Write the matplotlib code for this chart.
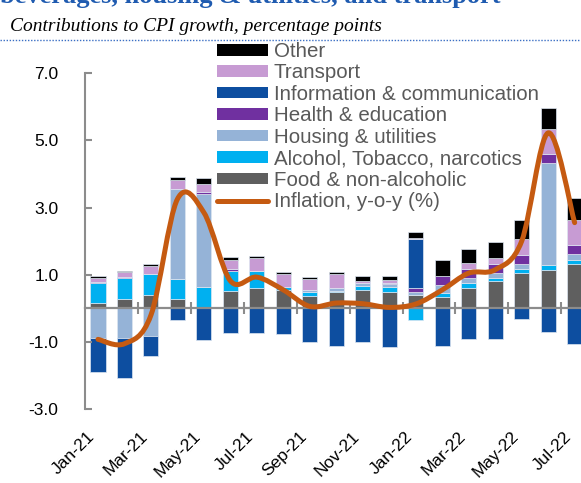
"""
Contributions to CPI growth by component, Jan-21 to Jul-22.
Stacked bars (positive and negative stacked separately) plus smoothed y-o-y inflation line.
"""
import numpy as np
import matplotlib.pyplot as plt
from matplotlib.lines import Line2D
from matplotlib.patches import Patch, PathPatch
from matplotlib.path import Path

plt.rcParams["font.family"] = ["Liberation Sans", "DejaVu Sans"]

MONTHS = [
    "Jan-21", "Feb-21", "Mar-21", "Apr-21", "May-21", "Jun-21", "Jul-21",
    "Aug-21", "Sep-21", "Oct-21", "Nov-21", "Dec-21", "Jan-22", "Feb-22",
    "Mar-22", "Apr-22", "May-22", "Jun-22", "Jul-22",
]

FOOD = [0.17, 0.29, 0.39, 0.28, 0.00, 0.52, 0.60, 0.54, 0.36, 0.50,
        0.55, 0.48, 0.40, 0.35, 0.62, 0.81, 1.04, 1.14, 1.31]
ALCOHOL = [0.59, 0.62, 0.62, 0.58, 0.63, 0.59, 0.52, 0.09, 0.12, 0.03,
           0.13, 0.15, -0.35, 0.12, 0.13, 0.10, 0.12, 0.14, 0.13]
HOUSING = [-0.87, -0.89, -0.82, 2.68, 2.78, 0.00, 0.00, 0.00, 0.08, 0.07,
           0.07, 0.09, 0.10, 0.23, 0.15, 0.15, 0.15, 3.04, 0.19]
HEALTH = [0.02, 0.02, 0.02, 0.00, 0.04, 0.05, 0.00, 0.00, 0.00, 0.00,
          0.00, 0.04, 0.10, 0.25, 0.27, 0.25, 0.27, 0.27, 0.26]
INFO = [-1.01, -1.19, -0.59, -0.35, -0.95, -0.73, -0.74, -0.75, -1.01, -1.11,
        -1.01, -1.14, 1.47, -1.11, -0.91, -0.90, -0.31, -0.70, -1.07]
TRANSPORT = [0.12, 0.15, 0.23, 0.28, 0.24, 0.28, 0.37, 0.38, 0.30, 0.42,
             0.07, 0.09, 0.03, 0.00, 0.18, 0.20, 0.48, 0.74, 0.73]
OTHER = [0.05, 0.02, 0.07, 0.08, 0.20, 0.09, 0.08, 0.08, 0.08, 0.07,
         0.14, 0.11, 0.17, 0.50, 0.42, 0.45, 0.57, 0.62, 0.67]
INFLATION = [-0.92, -1.05, -0.20, 3.25, 2.85, 0.82, 0.93, 0.55, 0.06, 0.16,
             0.14, 0.03, 0.13, 0.55, 1.05, 1.15, 2.00, 5.22, 2.55]

# stacking order, bottom to top
SERIES = [
    ("Food & non-alcoholic", FOOD, "#5f5f5f"),
    ("Alcohol, Tobacco, narcotics", ALCOHOL, "#00b0f0"),
    ("Housing & utilities", HOUSING, "#95b3d7"),
    ("Health & education", HEALTH, "#7030a0"),
    ("Information & communication", INFO, "#0d4ea0"),
    ("Transport", TRANSPORT, "#c79bd3"),
    ("Other", OTHER, "#000000"),
]
LINE_LABEL = "Inflation, y-o-y (%)"
LINE_COLOR = "#c55a11"
AXIS_GRAY = "#8c8c8c"
BAR_WIDTH = 0.57

W, H = 581, 483


def smooth_path(xs, ys) -> Path:
    """Catmull-Rom style bezier through the points (like a smoothed spreadsheet line)."""
    pts = np.column_stack([xs, ys]).astype(float)
    ext = np.vstack([pts[0], pts, pts[-1]])
    verts = [pts[0]]
    codes = [Path.MOVETO]
    for i in range(len(pts) - 1):
        p0, p1, p2, p3 = ext[i], ext[i + 1], ext[i + 2], ext[i + 3]
        verts += [p1 + (p2 - p0) / 6, p2 - (p3 - p1) / 6, p2]
        codes += [Path.CURVE4] * 3
    return Path(verts, codes)


fig = plt.figure(figsize=(W / 100, H / 100), dpi=100)
ax = fig.add_axes([85 / W, (H - 409.3) / H, 1 - 85 / W, 336.3 / H])

x = np.arange(len(MONTHS))
pos_bottom = np.zeros(len(x))
neg_bottom = np.zeros(len(x))
for name, vals, color in SERIES:
    v = np.array(vals)
    bottom = np.where(v >= 0, pos_bottom, neg_bottom)
    ax.bar(x, v, BAR_WIDTH, bottom=bottom, color=color,
           edgecolor="#dde6f1", linewidth=0.5, zorder=1)
    pos_bottom += np.clip(v, 0, None)
    neg_bottom += np.clip(v, None, 0)

ax.add_patch(PathPatch(smooth_path(x, INFLATION), facecolor="none",
                       edgecolor=LINE_COLOR, lw=3.6, capstyle="round",
                       joinstyle="round", zorder=4))

ax.set_xlim(-0.49, 18.24)
ax.set_ylim(-3, 7)
for side in ("top", "right"):
    ax.spines[side].set_visible(False)
ax.spines["left"].set_color(AXIS_GRAY)
ax.spines["left"].set_linewidth(1.5)
ax.spines["bottom"].set_position(("data", 0))
ax.spines["bottom"].set_color(AXIS_GRAY)
ax.spines["bottom"].set_linewidth(1.6)
ax.spines["bottom"].set_zorder(3)

ax.set_yticks([-3, -1, 1, 3, 5, 7])
ax.set_yticklabels([f"{v:.1f}" for v in [-3, -1, 1, 3, 5, 7]])
ax.tick_params(axis="y", direction="in", length=5, width=1.5, color=AXIS_GRAY,
               pad=19, labelsize=12.5, labelcolor="black")
ax.set_xticks(np.arange(1.5, 18, 2))
ax.tick_params(axis="x", direction="inout", length=9, width=1.5,
               color=AXIS_GRAY, labelbottom=False)

sec = ax.secondary_xaxis("bottom")
sec.set_xticks(x[::2])
sec.set_xticklabels(MONTHS[::2], rotation=45, ha="right")
sec.tick_params(length=0, pad=14, labelsize=12.5)
sec.spines["bottom"].set_visible(False)

# legend, top to bottom as in the chart
handles = [Patch(facecolor=c) for _, _, c in SERIES[::-1]]
labels = [n for n, _, _ in SERIES[::-1]]
handles.append(Line2D([], [], color=LINE_COLOR, lw=3.6, solid_capstyle="round"))
labels.append(LINE_LABEL)
fig.legend(handles, labels, loc="upper left", bbox_to_anchor=(217 / W, (H - 42) / H),
           frameon=False, fontsize=14.8, labelcolor="#595959",
           handlelength=2.5, handleheight=0.5, handletextpad=0.25,
           labelspacing=0.12, borderpad=0, borderaxespad=0)

fig.text(0.0, (H - 3) / H, "beverages, housing & utilities, and transport",
         family="Liberation Serif", weight="bold", color="#1f5bb0",
         fontsize=19, va="baseline", ha="left")
fig.text(10 / W, (H - 31) / H, "Contributions to CPI growth, percentage points",
         family="Liberation Serif", style="italic", color="black",
         fontsize=14, va="baseline", ha="left")
fig.add_artist(Line2D([0, 1], [(H - 40) / H] * 2, transform=fig.transFigure,
                      color="#3b6fc4", lw=1.0, linestyle=(0, (1, 1.2))))

fig.savefig("out.png", dpi=100, facecolor="white")
